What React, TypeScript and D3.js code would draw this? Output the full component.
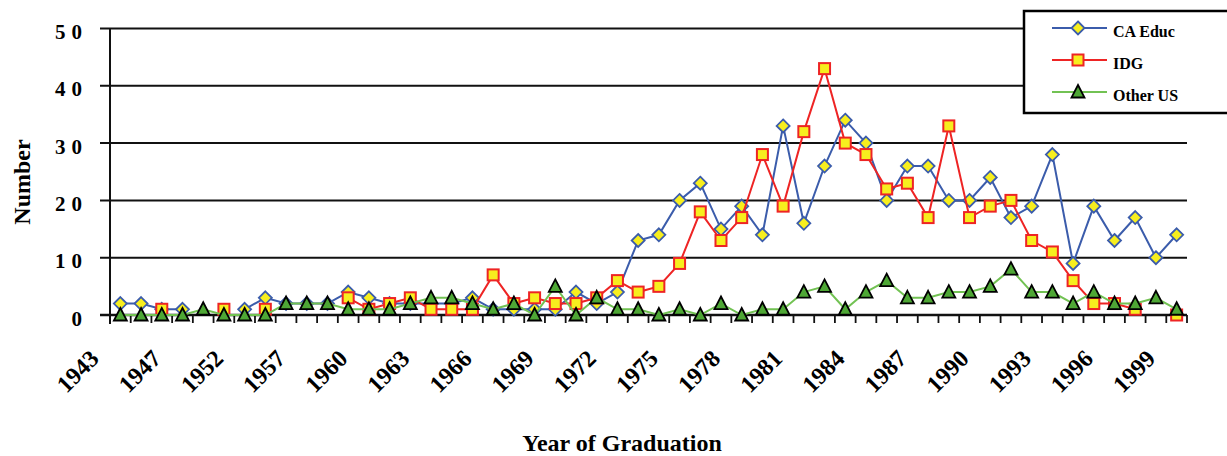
import React from 'react';
import { scaleBand, scaleLinear, line } from 'd3';

// categories (years of graduation) - the early years are not all consecutive
const years = [
  1943, 1944, 1945, 1947, 1948, 1950, 1952, 1954, 1956,
  1957, 1958, 1959, 1960, 1961, 1962, 1963, 1964, 1965, 1966, 1967, 1968, 1969,
  1970, 1971, 1972, 1973, 1974, 1975, 1976, 1977, 1978, 1979, 1980, 1981, 1982,
  1983, 1984, 1985, 1986, 1987, 1988, 1989, 1990, 1991, 1992, 1993, 1994, 1995,
  1996, 1997, 1998, 1999,
];

// series values, null = no data
const caEduc = [
  2, 2, 1, 1, null, null, 1, 3, 2, 2, 2, 4, 3, 2, 2, 2, 2, 3, 1, 1, 1, 1, 4, 2, 4,
  13, 14, 20, 23, 15, 19, 14, 33, 16, 26, 34, 30, 20, 26, 26, 20, 20, 24, 17, 19,
  28, 9, 19, 13, 17, 10, 14,
];
const idg = [
  null, null, 1, null, null, 1, null, 1, null, null, null, 3, 1, 2, 3, 1, 1, 1, 7,
  2, 3, 2, 2, 3, 6, 4, 5, 9, 18, 13, 17, 28, 19, 32, 43, 30, 28, 22, 23, 17, 33,
  17, 19, 20, 13, 11, 6, 2, 2, 1, null, 0,
];
const otherUS = [
  0, 0, 0, 0, 1, 0, 0, 0, 2, 2, 2, 1, 1, 1, 2, 3, 3, 2, 1, 2, 0, 5, 0, 3, 1, 1, 0,
  1, 0, 2, 0, 1, 1, 4, 5, 1, 4, 6, 3, 3, 4, 4, 5, 8, 4, 4, 2, 4, 2, 2, 3, 1,
];

const yTicks = [0, 10, 20, 30, 40, 50];
const seriesNames = ['CA Educ', 'IDG', 'Other US'];

const width = 1227;
const height = 456;
const font = 'Liberation Serif, DejaVu Serif, serif';

const Marker = ({ kind, x, y }) => {
  if (kind === 0) {
    const r = 6.5;
    return (
      <path
        d={`M${x},${y - r}L${x + r},${y}L${x},${y + r}L${x - r},${y}Z`}
        fill="#f7ee1e"
        stroke="#3b5cab"
        strokeWidth={1.8}
      />
    );
  }
  if (kind === 1) {
    const s = 5.5;
    return (
      <rect x={x - s} y={y - s} width={2 * s} height={2 * s} fill="#f7ee1e" stroke="#ee2424" strokeWidth={2} />
    );
  }
  const w = 6.5;
  return (
    <path
      d={`M${x},${y - 7}L${x + w},${y + 5.5}L${x - w},${y + 5.5}Z`}
      fill="#4ea735"
      stroke="#000"
      strokeWidth={1.8}
    />
  );
};

const lineColors = ['#3b5cab', '#ee2424', '#72c253'];

const App = () => {
  const idx = years.map((d, i) => i);
  const xScale = scaleBand().domain(idx).range([110, 1187]).padding(0);
  const bw = xScale.bandwidth();
  const cx = (i) => xScale(i) + bw / 2;
  const yScale = scaleLinear().domain([0, 50]).range([315, 28.5]);

  const series = [caEduc, idg, otherUS];
  const lineGen = line()
    .defined((d) => d != null)
    .x((d, i) => cx(i))
    .y((d) => yScale(d));

  return (
    <svg
      width={width}
      height={height}
      fontFamily={font}
      fontWeight="bold"
      style={{ position: 'absolute', left: 0, top: 0, background: '#fff' }}
    >
      {/* gridlines and y ticks */}
      {yTicks.map((t) => (
        <g key={t}>
          <line x1={100} x2={1187} y1={yScale(t)} y2={yScale(t)} stroke="#111" strokeWidth={t === 0 ? 2.5 : 2} />
          <text x={88} y={yScale(t) + 10.5} textAnchor="end" fontSize={21} letterSpacing={6}>
            {t}
          </text>
        </g>
      ))}
      {/* y axis */}
      <line x1={110} x2={110} y1={yScale(50)} y2={324} stroke="#111" strokeWidth={2} />
      {/* x ticks */}
      {idx.concat([idx.length]).map((i) => {
        const x = i < idx.length ? xScale(i) : 1187;
        return <line key={i} x1={x} x2={x} y1={315} y2={323} stroke="#111" strokeWidth={1.8} />;
      })}
      {/* x tick labels every 3rd category */}
      {idx
        .filter((i) => i % 3 === 0)
        .map((i) => (
          <text
            key={i}
            transform={`translate(${cx(i) - 20},${360}) rotate(-45)`}
            textAnchor="end"
            fontSize={24}
          >
            {years[i]}
          </text>
        ))}

      {/* series */}
      {series.map((s, k) => (
        <g key={k}>
          <path d={lineGen(s)} fill="none" stroke={lineColors[k]} strokeWidth={2} />
          {s.map((v, i) => (v == null ? null : <Marker key={i} kind={k} x={cx(i)} y={yScale(v)} />))}
        </g>
      ))}

      {/* axis titles */}
      <text x={622} y={451} textAnchor="middle" fontSize={24}>
        Year of Graduation
      </text>
      <text transform="translate(30,182) rotate(-90)" textAnchor="middle" fontSize={24}>
        Number
      </text>

      {/* legend */}
      <rect x={1024} y={11} width={210} height={102} fill="#fff" stroke="#000" strokeWidth={2.5} />
      {seriesNames.map((n, k) => {
        const ly = 28 + k * 32;
        return (
          <g key={n}>
            <line x1={1052} x2={1107} y1={ly} y2={ly} stroke={lineColors[k]} strokeWidth={2} />
            <Marker kind={k} x={1078} y={ly} />
            <text x={1113} y={ly + 9} fontSize={16}>
              {n}
            </text>
          </g>
        );
      })}
    </svg>
  );
};

export default App;
